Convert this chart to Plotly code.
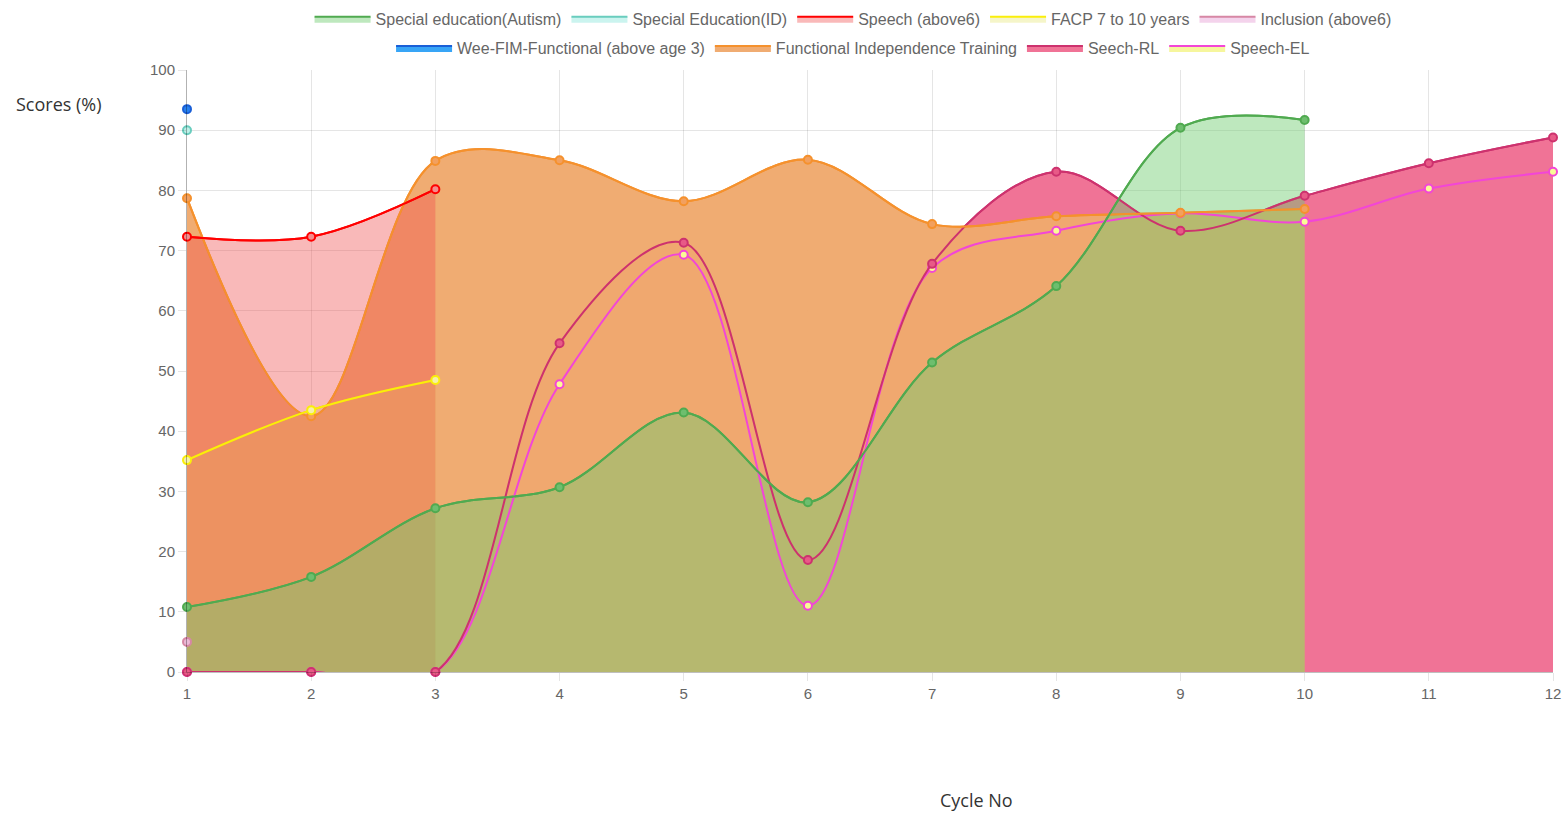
import plotly.graph_objects as go

# ---------------- data ----------------
cycles = list(range(1, 13))
autism = [10.8, 15.8, 27.2, 30.7, 43.1, 28.2, 51.4, 64.1, 90.4, 91.7]
special_id = [90.0]
speech_above6 = [72.3, 72.3, 80.2]
facp = [35.2, 43.5, 48.5]
inclusion = [5.0]
weefim = [93.5]
fit = [78.7, 42.5, 84.9, 85.0, 78.2, 85.1, 74.4, 75.7, 76.3, 76.9]
seech_rl = [0, 0, 0, 54.6, 71.3, 18.6, 67.8, 83.1, 73.3, 79.1, 84.5, 88.8]
speech_el = [0, 0, 0, 47.8, 69.3, 11.0, 67.1, 73.3, 76.2, 74.8, 80.3, 83.1]
y_ticks = list(range(0, 101, 10))

# draw order: bottom first (reverse of dataset order)
series = [
    # name, values, line colour, fill colour, marker fill, legend
    ("Speech-EL", speech_el, "rgb(242,70,215)", "rgba(245,245,140,0.85)", "rgb(250,250,150)", "legend2"),
    ("Seech-RL", seech_rl, "rgb(205,50,110)", "rgb(240,115,150)", "rgb(232,90,135)", "legend2"),
    ("Functional Independence Training", fit, "rgb(245,145,45)", "rgba(239,169,109,0.97)", "rgb(242,160,95)", "legend2"),
    ("Wee-FIM-Functional (above age 3)", weefim, "rgb(25,95,215)", "rgba(45,160,245,0.95)", "rgb(40,130,240)", "legend2"),
    ("Inclusion (above6)", inclusion, "rgb(215,135,165)", "rgba(235,175,220,0.55)", "rgb(235,185,215)", "legend"),
    ("FACP 7 to 10 years", facp, "rgb(250,238,10)", "rgba(225,225,100,0.35)", "rgb(245,240,170)", "legend"),
    ("Speech (above6)", speech_above6, "rgb(255,0,0)", "rgba(240,80,80,0.4)", "rgb(245,140,140)", "legend"),
    ("Special Education(ID)", special_id, "rgb(105,205,190)", "rgba(160,235,225,0.55)", "rgb(190,240,232)", "legend"),
    ("Special education(Autism)", autism, "rgb(80,170,80)", "rgba(110,205,110,0.45)", "rgb(110,190,110)", "legend"),
]

fig = go.Figure()

# fills (with border line, these also provide the legend entries)
for name, vals, lc, fc, mc, lg in series:
    fig.add_trace(go.Scatter(
        x=cycles[:len(vals)], y=vals, name=name,
        mode="lines", fill="tozeroy", fillcolor=fc,
        line=dict(color=lc, width=2, shape="spline", smoothing=1.0),
        legend=lg, hoverinfo="skip",
    ))

# lines and points on top of all fills
for name, vals, lc, fc, mc, lg in series:
    fig.add_trace(go.Scatter(
        x=cycles[:len(vals)], y=vals, name=name,
        mode="lines+markers",
        line=dict(color=lc, width=2, shape="spline", smoothing=1.0),
        marker=dict(size=8, color=mc, line=dict(color=lc, width=2)),
        showlegend=False, cliponaxis=False,
    ))

grid = "rgba(0,0,0,0.1)"
tick_font = dict(family="Liberation Sans, Arial, sans-serif", size=15, color="#666666")
leg_font = dict(family="Liberation Sans, Arial, sans-serif", size=16, color="#666666")

fig.update_layout(
    width=1566, height=819,
    margin=dict(l=187, r=13, t=70, b=147, autoexpand=False),
    paper_bgcolor="white", plot_bgcolor="white",
    xaxis=dict(
        range=[1, 12], tickmode="array", tickvals=cycles, ticktext=[str(c) for c in cycles],
        showgrid=True, gridcolor=grid, gridwidth=1, zeroline=False, automargin=False,
        showline=True, linecolor="rgba(0,0,0,0.25)", linewidth=1,
        ticks="outside", ticklen=8, tickcolor=grid, tickfont=tick_font,
    ),
    yaxis=dict(
        range=[0, 100], tickmode="array", tickvals=y_ticks, ticktext=[str(v) for v in y_ticks],
        showgrid=True, gridcolor=grid, gridwidth=1, zeroline=False, automargin=False,
        showline=True, linecolor="rgba(0,0,0,0.3)", linewidth=1,
        ticks="outside", ticklen=8, tickcolor=grid, tickfont=tick_font,
    ),
    legend=dict(
        orientation="h", x=0.4876, xanchor="center", y=1.085, yanchor="middle",
        traceorder="reversed", font=leg_font, itemwidth=56, bgcolor="rgba(0,0,0,0)",
    ),
    legend2=dict(
        orientation="h", x=0.4876, xanchor="center", y=1.0365, yanchor="middle",
        traceorder="reversed", font=leg_font, itemwidth=56, bgcolor="rgba(0,0,0,0)",
    ),
    annotations=[
        dict(text="Scores (%)", xref="paper", yref="paper", x=-0.0937, y=0.9435,
             xanchor="center", yanchor="middle", showarrow=False,
             font=dict(family="Open Sans, Noto Sans, sans-serif", size=18, color="#333333")),
        dict(text="Cycle No", xref="paper", yref="paper", x=0.5776, y=-0.2126,
             xanchor="center", yanchor="middle", showarrow=False,
             font=dict(family="Open Sans, Noto Sans, sans-serif", size=18, color="#333333")),
    ],
    showlegend=True,
    hovermode="closest",
)

fig.write_html("out.html", config={"displayModeBar": False},
               post_script="document.body.style.margin='0';")
